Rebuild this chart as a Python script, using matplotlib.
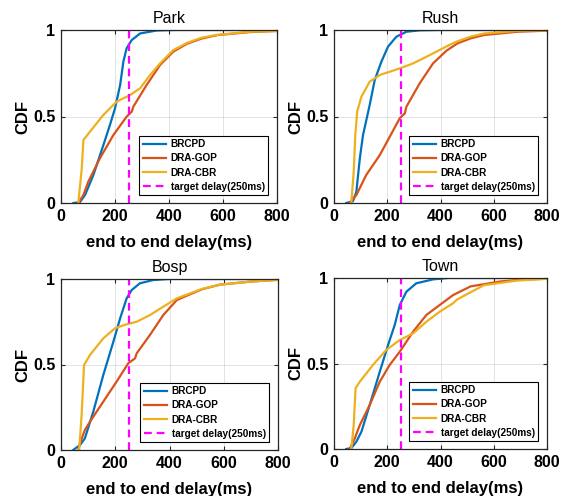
import matplotlib
matplotlib.use("Agg")
import matplotlib.pyplot as plt
from matplotlib.ticker import FixedLocator, FixedFormatter

plt.rcParams['font.family'] = ['Liberation Sans', 'DejaVu Sans']

# ---- delay (ms) / CDF samples per scene and scheme ----
park_brcpd_x = [46, 70, 89, 120, 157, 181, 200, 219, 231, 243, 262, 293, 354, 420, 800]
park_brcpd_y = [0, 0.005, 0.046, 0.162, 0.335, 0.45, 0.547, 0.682, 0.817, 0.894, 0.942, 0.98, 0.997, 1.0, 1.0]
park_gop_x = [64, 83, 101, 144, 194, 243, 262, 268, 317, 367, 416, 466, 520, 577, 700, 800]
park_gop_y = [0, 0.046, 0.123, 0.258, 0.393, 0.499, 0.528, 0.557, 0.682, 0.798, 0.875, 0.92, 0.95, 0.97, 0.988, 0.994]
park_cbr_x = [64, 77, 83, 107, 157, 206, 256, 293, 330, 367, 416, 466, 520, 577, 700, 800]
park_cbr_y = [0, 0.2, 0.364, 0.412, 0.509, 0.586, 0.624, 0.663, 0.74, 0.807, 0.884, 0.925, 0.955, 0.972, 0.99, 0.995]

rush_brcpd_x = [46, 71, 84, 97, 109, 134, 153, 178, 203, 234, 272, 322, 400, 800]
rush_brcpd_y = [0, 0.01, 0.065, 0.258, 0.393, 0.566, 0.711, 0.817, 0.904, 0.961, 0.99, 0.998, 1.0, 1.0]
rush_gop_x = [59, 84, 121, 172, 247, 266, 272, 322, 372, 422, 464, 514, 564, 689, 800]
rush_gop_y = [0, 0.046, 0.162, 0.277, 0.49, 0.518, 0.557, 0.692, 0.807, 0.88, 0.923, 0.952, 0.971, 0.99, 0.996]
rush_cbr_x = [65, 74, 80, 87, 103, 134, 172, 247, 297, 335, 385, 435, 464, 514, 564, 689, 800]
rush_cbr_y = [0, 0.181, 0.393, 0.528, 0.615, 0.701, 0.74, 0.778, 0.807, 0.836, 0.875, 0.915, 0.935, 0.962, 0.98, 0.995, 0.998]

bosp_brcpd_x = [45, 70, 88, 119, 156, 193, 218, 242, 261, 291, 340, 400, 800]
bosp_brcpd_y = [0, 0.029, 0.068, 0.224, 0.439, 0.633, 0.77, 0.887, 0.936, 0.975, 0.994, 1.0, 1.0]
bosp_gop_x = [64, 70, 88, 107, 156, 205, 248, 273, 279, 328, 377, 427, 463, 520, 586, 700, 800]
bosp_gop_y = [0, 0.04, 0.117, 0.166, 0.283, 0.4, 0.507, 0.536, 0.565, 0.673, 0.789, 0.877, 0.902, 0.94, 0.967, 0.985, 0.995]
bosp_cbr_x = [67, 76, 85, 107, 156, 199, 242, 279, 328, 377, 427, 463, 520, 586, 700, 800]
bosp_cbr_y = [0, 0.205, 0.497, 0.556, 0.653, 0.712, 0.735, 0.75, 0.789, 0.838, 0.887, 0.908, 0.942, 0.967, 0.985, 0.995]

town_brcpd_x = [46, 65, 84, 103, 134, 172, 203, 228, 247, 272, 309, 372, 430, 800]
town_brcpd_y = [0, 0.005, 0.043, 0.101, 0.257, 0.452, 0.608, 0.725, 0.842, 0.92, 0.969, 0.992, 1.0, 1.0]
town_gop_x = [59, 78, 97, 134, 172, 209, 247, 297, 347, 397, 447, 513, 626, 700, 800]
town_gop_y = [0, 0.062, 0.14, 0.257, 0.394, 0.491, 0.569, 0.686, 0.784, 0.842, 0.9, 0.951, 0.98, 0.99, 0.996]
town_cbr_x = [65, 74, 81, 97, 146, 196, 247, 297, 347, 397, 447, 463, 563, 688, 800]
town_cbr_y = [0, 0.14, 0.355, 0.394, 0.491, 0.579, 0.637, 0.676, 0.744, 0.803, 0.852, 0.875, 0.958, 0.985, 0.995]

scenes = ["Park", "Rush", "Bosp", "Town"]
series_labels = ["BRCPD", "DRA-GOP", "DRA-CBR"]
target_delay = 250
legend_target = "target delay(250ms)"

x_ticks = [0, 200, 400, 600, 800]
y_ticks = [0, 0.5, 1]
y_tick_labels = ["0", "0.5", "1"]

colors = ["#0072BD", "#D95319", "#EDB120"]

curves = {
    "Park": [(park_brcpd_x, park_brcpd_y), (park_gop_x, park_gop_y), (park_cbr_x, park_cbr_y)],
    "Rush": [(rush_brcpd_x, rush_brcpd_y), (rush_gop_x, rush_gop_y), (rush_cbr_x, rush_cbr_y)],
    "Bosp": [(bosp_brcpd_x, bosp_brcpd_y), (bosp_gop_x, bosp_gop_y), (bosp_cbr_x, bosp_cbr_y)],
    "Town": [(town_brcpd_x, town_brcpd_y), (town_gop_x, town_gop_y), (town_cbr_x, town_cbr_y)],
}

fig = plt.figure(figsize=(5.68, 4.96), dpi=100)
W, H = 568, 496
# axes rectangles in pixels: left, top, right, bottom
rects = {
    "Park": (61, 30, 277, 203),
    "Rush": (334, 30, 547, 203),
    "Bosp": (61, 279, 278, 450),
    "Town": (334, 278, 547, 449),
}

axis_color = "#262626"
for name in scenes:
    l, t, r, b = rects[name]
    ax = fig.add_axes([l / W, 1 - b / H, (r - l) / W, (b - t) / H])
    handles = []
    for (xs, ys), c, lab in zip(curves[name], colors, series_labels):
        h, = ax.plot(xs, ys, color=c, lw=1.6, label=lab)
        handles.append(h)
    h, = ax.plot([target_delay, target_delay], [0, 1], color="#FF00FF", lw=1.6,
                 ls=(0, (3.5, 2.2)), label=legend_target)
    handles.append(h)

    ax.set_xlim(0, 800)
    ax.set_ylim(0, 1)
    ax.xaxis.set_major_locator(FixedLocator(x_ticks))
    ax.yaxis.set_major_locator(FixedLocator(y_ticks))
    ax.yaxis.set_major_formatter(FixedFormatter(y_tick_labels))
    ax.grid(True, color=axis_color, alpha=0.15, lw=0.6)
    ax.set_axisbelow(True)
    ax.tick_params(direction="in", length=3, width=0.8, colors=axis_color,
                   top=True, right=True, labelsize=11.5, pad=4)
    for lbl in ax.get_xticklabels() + ax.get_yticklabels():
        lbl.set_fontweight("bold")
        lbl.set_color("black")
    for sp in ax.spines.values():
        sp.set_color(axis_color)
        sp.set_linewidth(0.9)

    ax.set_title(name, fontsize=11.5, pad=5)
    ax.set_xlabel("end to end delay(ms)", fontsize=12, fontweight="bold", labelpad=8)
    ax.set_ylabel("CDF", fontsize=12, fontweight="bold", labelpad=2)

    leg = ax.legend(handles=handles, loc="lower right", bbox_to_anchor=(0.96, 0.045),
                    fancybox=False, framealpha=1, edgecolor="black",
                    prop={"size": 7.2, "weight": "bold"}, handlelength=2.3,
                    labelspacing=0.42, borderpad=0.35, handletextpad=0.5,
                    borderaxespad=0.0)
    leg.get_frame().set_linewidth(0.8)

fig.savefig("out.png", dpi=100)
